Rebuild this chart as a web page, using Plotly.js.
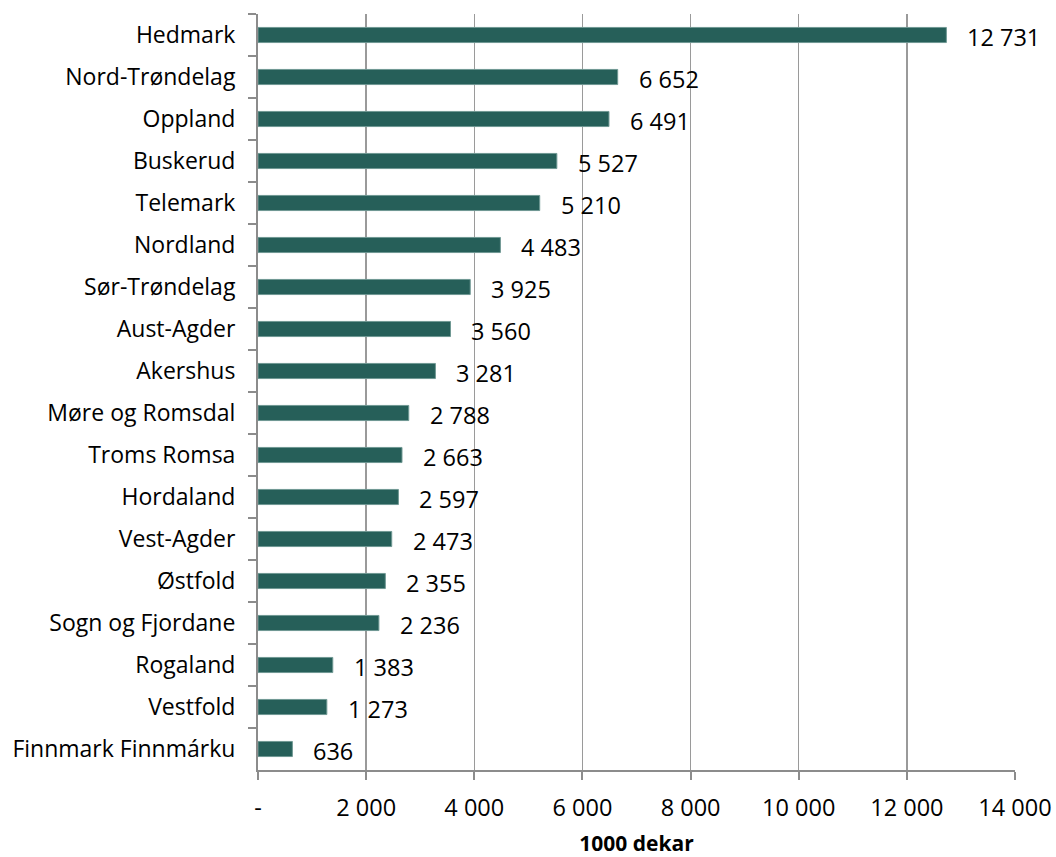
<!DOCTYPE html>
<html>
<head>
<meta charset="utf-8">
<script src="https://cdn.plot.ly/plotly-3.0.1.min.js"></script>
<style>html,body{margin:0;padding:0;background:#fff;}#chart{width:1056px;height:857px;}</style>
</head>
<body>
<div id="chart"></div>
<script>
const categories = ["Hedmark","Nord-Trøndelag","Oppland","Buskerud","Telemark","Nordland","Sør-Trøndelag","Aust-Agder","Akershus","Møre og Romsdal","Troms Romsa","Hordaland","Vest-Agder","Østfold","Sogn og Fjordane","Rogaland","Vestfold","Finnmark Finnmárku"];
const values = [12731,6652,6491,5527,5210,4483,3925,3560,3281,2788,2663,2597,2473,2355,2236,1383,1273,636];
const xTickVals = [0,2000,4000,6000,8000,10000,12000,14000];
const xTickText = ["-","2 000","4 000","6 000","8 000","10 000","12 000","14 000"];
const xTitle = "1000 dekar";

function fmt(v){return String(v).replace(/\B(?=(\d{3})+(?!\d))/g," ");}

const fam = "Open Sans, Noto Sans, sans-serif";
const valFont = {family:fam, size:23.5, color:"#000"};
const catFont = {family:fam, size:23, color:"#000"};

const trace = {
  type:"bar", orientation:"h",
  x: values, y: categories,
  marker:{color:"#265f59", line:{color:"#6f9893", width:1}},
  hoverinfo:"none"
};

const annotations = values.map((v,i)=>({
  x:v, y:categories[i], xref:"x", yref:"y",
  text: fmt(v), showarrow:false, xanchor:"left", xshift:19, yshift:-2,
  font: valFont
}));

const layout = {
  width:1056, height:857,
  margin:{l:258, r:41, t:14, b:87},
  paper_bgcolor:"#fff", plot_bgcolor:"#fff",
  showlegend:false,
  bargap:0.64,
  font: valFont,
  xaxis:{
    range:[0,14000], tickvals:xTickVals, ticktext:xTickText,
    showgrid:true, gridcolor:"#9a9a9a", gridwidth:1.5,
    showline:true, linecolor:"#8c8c8c", linewidth:2,
    ticks:"outside", ticklen:8, tickcolor:"#8c8c8c", tickwidth:2,
    zeroline:false, tickfont:valFont, ticklabelstandoff:8,
    title:{text:"<b>"+xTitle+"</b>", font:{family:fam, size:21, color:"#000"}, standoff:16},
    fixedrange:true
  },
  yaxis:{
    type:"category", autorange:"reversed",
    showgrid:false, showline:true, linecolor:"#8c8c8c", linewidth:2,
    ticks:"outside", ticklen:8, tickcolor:"#8c8c8c", tickwidth:2,
    tickson:"boundaries", tickfont:catFont, ticklabelstandoff:16,
    fixedrange:true
  },
  annotations: annotations
};

Plotly.newPlot("chart",[trace],layout,{displayModeBar:false, staticPlot:true});
</script>
</body>
</html>
